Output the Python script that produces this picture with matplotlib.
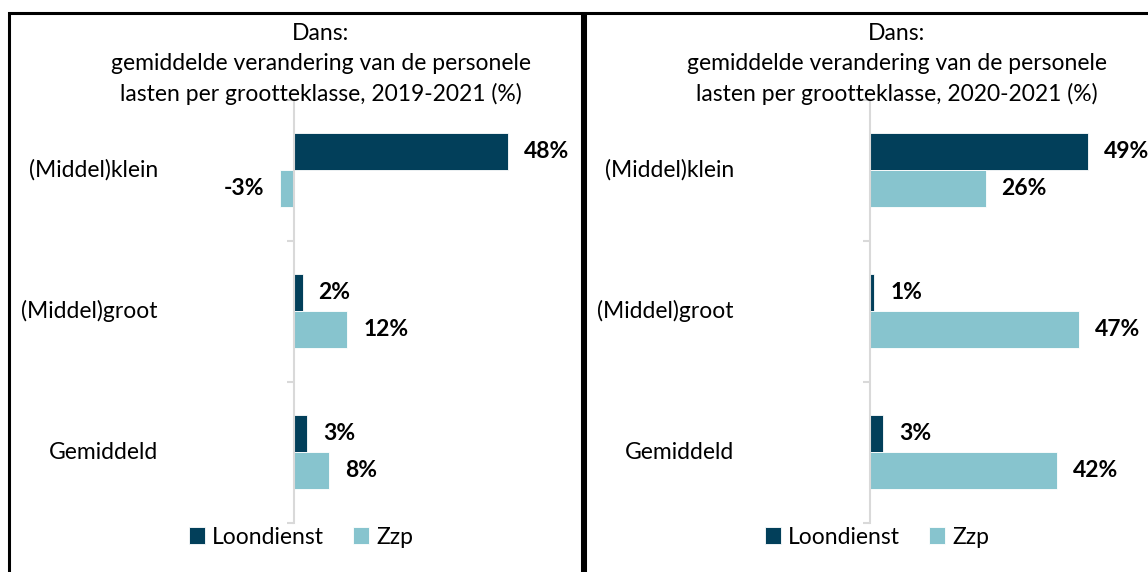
import matplotlib
matplotlib.use('Agg')
import matplotlib.pyplot as plt
from matplotlib.patches import Rectangle
import numpy as np

plt.rcParams['font.family'] = ['Lato', 'DejaVu Sans']

# Data
categories = ['(Middel)klein', '(Middel)groot', 'Gemiddeld']
series = ['Loondienst', 'Zzp']
loondienst_1921 = [48, 2, 3]
zzp_1921 = [-3, 12, 8]
loondienst_2021 = [49, 1, 3]
zzp_2021 = [26, 47, 42]
titles = ['Dans:\ngemiddelde verandering van de personele\nlasten per grootteklasse, 2019-2021 (%)',
          'Dans:\ngemiddelde verandering van de personele\nlasten per grootteklasse, 2020-2021 (%)']

DARK = '#023F5A'
LIGHT = '#87C4CE'
AXIS_GREY = '#D9D9D9'
FS = 16.5

fig = plt.figure(figsize=(11.48, 5.72), dpi=100)
W, H = 1148, 572


def px_axes(x0, x1, ytop, ybot):
    return fig.add_axes([x0 / W, 1 - ybot / H, (x1 - x0) / W, (ybot - ytop) / H])


def draw_panel(ax, loon, zzp, title, box_left, box_right):
    y = np.arange(len(categories))
    h = 0.26
    b1 = ax.barh(y - h / 2, loon, height=h, color=DARK, edgecolor='white',
                 linewidth=0.6, label=series[0])
    b2 = ax.barh(y + h / 2, zzp, height=h, color=LIGHT, edgecolor='white',
                 linewidth=0.6, label=series[1])
    ax.bar_label(b1, labels=[f'{v}%' for v in loon], padding=11.5,
                 fontsize=FS, fontweight='bold')
    ax.bar_label(b2, labels=[f'{v}%' for v in zzp], padding=11.5,
                 fontsize=FS, fontweight='bold')

    ax.set_xlim(-30, 60)
    ax.set_ylim(len(categories) - 0.5, -0.5)
    for s in ['top', 'right', 'bottom']:
        ax.spines[s].set_visible(False)
    ax.spines['left'].set_position(('data', 0))
    ax.spines['left'].set_color(AXIS_GREY)
    ax.spines['left'].set_linewidth(1.5)
    ax.set_xticks([])
    ax.set_yticks([])
    ax.set_yticks(np.arange(len(categories) + 1) - 0.5, minor=True)
    ax.tick_params(axis='y', which='minor', length=5, width=1.5,
                   color=AXIS_GREY, labelleft=False)

    for yi, cat in zip(y, categories):
        ax.text(-0.005, yi, cat, transform=ax.get_yaxis_transform(),
                ha='right', va='center', fontsize=FS)

    cx = (box_left + 312) / W
    fig.text(cx, 1 - 64 / H, title, ha='center', va='center', fontsize=FS,
             linespacing=1.5)

    ax.legend(loc='center', bbox_to_anchor=((box_left + 292) / W, 1 - 537 / H),
              bbox_transform=fig.transFigure, ncol=2, frameon=False,
              fontsize=FS, handlelength=0.7, handleheight=0.7,
              handletextpad=0.3, columnspacing=1.3)

    fig.add_artist(Rectangle((box_left / W, -0.1), (box_right - box_left) / W,
                             1.1 - 13 / H, transform=fig.transFigure,
                             fill=False, edgecolor='black', linewidth=2.2))


ax1 = px_axes(160, 561, 99.5, 522.5)
draw_panel(ax1, loondienst_1921, zzp_1921, titles[0], 9, 582)

ax2 = px_axes(736, 1137, 99.5, 522.5)
draw_panel(ax2, loondienst_2021, zzp_2021, titles[1], 585, 1200)

fig.savefig('out.png', dpi=100)
